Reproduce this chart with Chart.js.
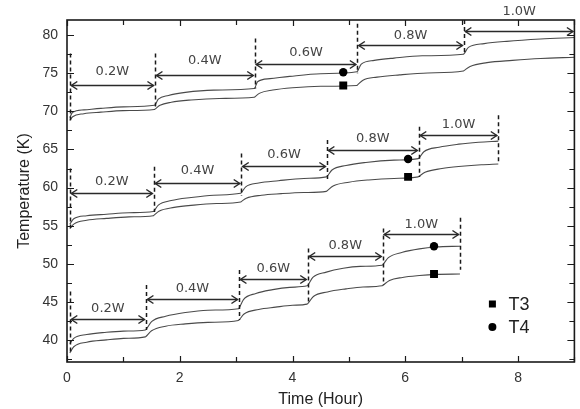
<!DOCTYPE html>
<html><head><meta charset="utf-8">
<style>html,body{margin:0;padding:0;background:#fff;}canvas{display:block}</style>
<script src="https://cdn.jsdelivr.net/npm/chart.js@4.4.0/dist/chart.umd.min.js"></script>
</head><body><canvas id="c" width="580" height="409"></canvas>
<script>
// ---- axis ticks ----
const xTickValues = [0, 2, 4, 6, 8];
const xMinorTicks = [0, 1, 2, 3, 4, 5, 6, 7, 8, 9];
const yTickValues = [40, 45, 50, 55, 60, 65, 70, 75, 80];
const yMinorTicks = [37.5, 40, 42.5, 45, 47.5, 50, 52.5, 55, 57.5, 60, 62.5, 65, 67.5, 70, 72.5, 75, 77.5, 80];

// ---- curves: group 1 (top) ----
const g1T4Time = [0.05,0.1,0.3,0.6,1.0,1.55, 1.56,1.62,1.8,2.1,2.6,3.32, 3.33,3.38,3.6,3.95,4.5,5.14, 5.15,5.22,5.45,5.8,6.3,7.03, 7.04,7.12,7.4,7.8,8.4,9.0];
const g1T4Temp = [69.2,69.9,70.2,70.4,70.6,70.8, 70.85,71.6,72.1,72.5,72.8,73.0, 73.05,73.9,74.3,74.6,74.95,75.2, 75.25,76.2,76.7,77.0,77.3,77.5, 77.55,78.4,78.9,79.2,79.5,79.7];
const g1T3Time = [0.05,0.1,0.3,0.6,1.0,1.55, 1.56,1.65,1.85,2.2,2.7,3.32, 3.33,3.42,3.65,4.0,4.5,5.14, 5.15,5.25,5.5,5.9,6.4,7.03, 7.04,7.15,7.45,7.9,8.4,9.0];
const g1T3Temp = [68.8,69.3,69.7,69.9,70.1,70.25, 70.3,70.8,71.2,71.5,71.7,71.85, 71.9,72.4,72.8,73.1,73.3,73.4, 73.45,74.1,74.5,74.8,75.05,75.3, 75.35,75.9,76.4,76.7,76.95,77.1];
// ---- group 2 (middle) ----
const g2T4Time = [0.05,0.12,0.35,0.7,1.1,1.53, 1.54,1.62,1.85,2.2,2.6,3.08, 3.09,3.17,3.4,3.75,4.2,4.6, 4.61,4.7,4.95,5.3,5.8,6.23, 6.24,6.33,6.6,6.95,7.3,7.65];
const g2T4Temp = [55.2,55.9,56.3,56.5,56.7,56.85, 56.9,57.7,58.3,58.7,59.0,59.25, 59.3,60.1,60.6,60.9,61.2,61.4, 61.45,62.3,62.9,63.3,63.6,63.8, 63.85,64.7,65.3,65.7,65.95,66.1];
const g2T3Time = [0.05,0.12,0.35,0.7,1.1,1.53, 1.54,1.63,1.9,2.25,2.65,3.08, 3.09,3.18,3.45,3.8,4.2,4.6, 4.61,4.72,5.0,5.35,5.8,6.23, 6.24,6.35,6.65,7.0,7.35,7.65];
const g2T3Temp = [54.6,55.2,55.7,55.95,56.15,56.3, 56.35,56.9,57.4,57.7,57.9,58.1, 58.15,58.6,59.0,59.2,59.35,59.5, 59.55,60.2,60.7,61.0,61.2,61.4, 61.45,62.0,62.5,62.8,63.0,63.1];
// ---- group 3 (bottom) ----
const g3T4Time = [0.05,0.12,0.35,0.7,1.0,1.39, 1.40,1.5,1.75,2.1,2.5,3.04, 3.05,3.13,3.35,3.65,3.95,4.26, 4.27,4.36,4.6,4.9,5.2,5.59, 5.6,5.7,5.95,6.25,6.55,6.97];
const g3T4Temp = [39.5,40.2,40.7,41.0,41.15,41.3, 41.35,42.4,43.1,43.6,43.9,44.1, 44.15,45.3,46.1,46.6,46.9,47.1, 47.15,48.2,48.9,49.4,49.65,49.8, 49.85,50.8,51.5,51.95,52.2,52.3];
const g3T3Time = [0.05,0.12,0.35,0.7,1.0,1.39, 1.40,1.5,1.75,2.1,2.5,3.04, 3.05,3.14,3.4,3.7,4.0,4.26, 4.27,4.37,4.62,4.95,5.25,5.59, 5.6,5.72,5.95,6.25,6.55,6.97];
const g3T3Temp = [38.3,39.1,39.7,40.0,40.2,40.4, 40.45,41.2,41.8,42.1,42.3,42.55, 42.6,43.4,44.0,44.3,44.55,44.7, 44.75,45.7,46.3,46.7,46.95,47.1, 47.15,47.8,48.2,48.45,48.6,48.65];

// ---- markers ----
const markerTime = [4.9, 6.05, 6.51];
const t3MarkerTemp = [73.4, 61.4, 48.65];
const t4MarkerTemp = [75.15, 63.75, 52.3];

// ---- power step annotations ----
const powerLabels = ['0.2W', '0.4W', '0.6W', '0.8W', '1.0W'];
const g1Bounds = [0.05, 1.56, 3.33, 5.15, 7.04, 9.0];
const g2Bounds = [0.05, 1.54, 3.09, 4.61, 6.24, 7.65];
const g3Bounds = [0.05, 1.40, 3.05, 4.27, 5.60, 6.97];
const g1ArrowY = [73.44, 74.75, 76.2, 78.69, 80.56];
const g2ArrowY = [59.24, 60.63, 62.82, 64.92, 66.89];
const g3ArrowY = [42.71, 45.38, 48.0, 51.05, 53.86];
const g1LabelY = [75.19, 76.72, 77.77, 80.0, 83.06];
const g2LabelY = [60.76, 62.2, 64.26, 66.45, 68.2];
const g3LabelY = [44.16, 46.69, 49.4, 52.37, 55.17];
const g1DashTop = [77.6, 77.6, 79.56, 81.5, 82.0, null];
const g1DashBot = [68.85, 70.6, 73.0, 75.0, 77.8, null];
const g2DashTop = [62.52, 62.73, 64.48, 66.23, 67.97, 69.5];
const g2DashBot = [54.69, 56.8, 58.9, 60.8, 61.4, 63.17];
const g3DashTop = [46.34, 47.21, 49.18, 52.0, 54.64, 56.04];
const g3DashBot = [38.46, 41.3, 42.6, 44.8, 47.2, 49.2];

const legendLabels = ['T3', 'T4'];

function pts(ts, ys) { return ts.map((t, i) => ({ x: t, y: ys[i] })); }
function curve(ts, ys) {
  return { type: 'line', data: pts(ts, ys), borderColor: '#4a4a4a', borderWidth: 1.1,
    pointRadius: 0, cubicInterpolationMode: 'monotone', fill: false, order: 2 };
}

const groups = [
  { b: g1Bounds, a: g1ArrowY, l: g1LabelY, dt: g1DashTop, db: g1DashBot },
  { b: g2Bounds, a: g2ArrowY, l: g2LabelY, dt: g2DashTop, db: g2DashBot },
  { b: g3Bounds, a: g3ArrowY, l: g3LabelY, dt: g3DashTop, db: g3DashBot }
];

const annotPlugin = {
  id: 'annot',
  afterDraw(chart) {
    const ctx = chart.ctx, xs = chart.scales.x, ys = chart.scales.y, ca = chart.chartArea;
    ctx.save();
    // dashed vertical lines
    ctx.strokeStyle = '#1a1a1a'; ctx.lineWidth = 1.5; ctx.setLineDash([4, 3]);
    groups.forEach(g => {
      g.b.forEach((t, i) => {
        if (g.dt[i] == null) return;
        const x = Math.round(xs.getPixelForValue(t)) + 0.5;
        ctx.beginPath();
        ctx.moveTo(x, ys.getPixelForValue(g.dt[i]));
        ctx.lineTo(x, ys.getPixelForValue(g.db[i]));
        ctx.stroke();
      });
    });
    ctx.setLineDash([]);
    // arrows
    ctx.strokeStyle = '#2a2a2a'; ctx.lineWidth = 1.5;
    ctx.fillStyle = '#444';
    ctx.font = '13px "DejaVu Sans"'; ctx.textAlign = 'center'; ctx.textBaseline = 'middle';
    groups.forEach(g => {
      for (let i = 0; i < 5; i++) {
        const x1 = xs.getPixelForValue(g.b[i]) + 1.5, x2 = xs.getPixelForValue(g.b[i + 1]) - 1.5;
        const y = Math.round(ys.getPixelForValue(g.a[i])) + 0.5;
        ctx.beginPath(); ctx.moveTo(x1, y); ctx.lineTo(x2, y); ctx.stroke();
        ctx.beginPath();
        ctx.moveTo(x1 + 6, y - 4); ctx.lineTo(x1, y); ctx.lineTo(x1 + 6, y + 4);
        ctx.moveTo(x2 - 6, y - 4); ctx.lineTo(x2, y); ctx.lineTo(x2 - 6, y + 4);
        ctx.stroke();
        ctx.fillText(powerLabels[i], (xs.getPixelForValue(g.b[i]) + xs.getPixelForValue(g.b[i + 1])) / 2,
          ys.getPixelForValue(g.l[i]));
      }
    });
    // frame
    ctx.strokeStyle = '#1a1a1a'; ctx.lineWidth = 1.6;
    ctx.strokeRect(ca.left, ca.top, ca.right - ca.left, ca.bottom - ca.top);
    ctx.lineWidth = 1.2;
    ctx.beginPath();
    xMinorTicks.forEach(v => {
      const x = Math.round(xs.getPixelForValue(v)) + 0.5;
      const len = xTickValues.includes(v) ? 6 : 5;
      ctx.moveTo(x, ca.bottom); ctx.lineTo(x, ca.bottom - len);
      ctx.moveTo(x, ca.top); ctx.lineTo(x, ca.top + len);
    });
    yMinorTicks.forEach(v => {
      const y = Math.round(ys.getPixelForValue(v)) + 0.5;
      const len = yTickValues.includes(v) ? 7 : 5;
      ctx.moveTo(ca.left, y); ctx.lineTo(ca.left + len, y);
      ctx.moveTo(ca.right, y); ctx.lineTo(ca.right - len, y);
    });
    ctx.stroke();
    // legend
    const lx = ca.right - 82, ly1 = ca.bottom - 58, ly2 = ca.bottom - 35;
    ctx.fillStyle = '#000';
    ctx.fillRect(lx - 3.5, ly1 - 3.5, 7, 7);
    ctx.beginPath(); ctx.arc(lx, ly2, 4, 0, Math.PI * 2); ctx.fill();
    ctx.fillStyle = '#222'; ctx.font = '18px "Liberation Sans"'; ctx.textAlign = 'left';
    ctx.fillText(legendLabels[0], lx + 16, ly1 + 1);
    ctx.fillText(legendLabels[1], lx + 16, ly2 + 1);
    ctx.restore();
  }
};

const tickFont = { family: '"Liberation Sans", Arial', size: 14 };
new Chart(document.getElementById('c'), {
  type: 'scatter',
  data: {
    datasets: [
      curve(g1T4Time, g1T4Temp), curve(g1T3Time, g1T3Temp),
      curve(g2T4Time, g2T4Temp), curve(g2T3Time, g2T3Temp),
      curve(g3T4Time, g3T4Temp), curve(g3T3Time, g3T3Temp),
      { label: 'T3', data: pts(markerTime, t3MarkerTemp), pointStyle: 'rect', pointRadius: 5.6,
        backgroundColor: '#000', borderColor: '#000', borderWidth: 0, order: 1 },
      { label: 'T4', data: pts(markerTime, t4MarkerTemp), pointStyle: 'circle', pointRadius: 4.2,
        backgroundColor: '#000', borderColor: '#000', borderWidth: 0, order: 1 }
    ]
  },
  options: {
    responsive: false, devicePixelRatio: 1, animation: false,
    layout: { padding: { left: 0, right: 5, top: 20, bottom: 0 } },
    plugins: { legend: { display: false }, tooltip: { enabled: false } },
    scales: {
      x: {
        type: 'linear', min: 0, max: 9,
        afterBuildTicks: s => { s.ticks = xTickValues.map(v => ({ value: v })); },
        afterFit: s => { s.height = 47; },
        grid: { display: false, drawTicks: false }, border: { display: false },
        ticks: { font: tickFont, color: '#333', padding: 8 },
        title: { display: true, text: 'Time (Hour)', font: { family: '"Liberation Sans", Arial', size: 16 }, color: '#222', padding: { top: 2, bottom: 0 } }
      },
      y: {
        type: 'linear', min: 37.1, max: 82,
        afterBuildTicks: s => { s.ticks = yTickValues.map(v => ({ value: v })); },
        afterFit: s => { s.width = 67; },
        grid: { display: false, drawTicks: false }, border: { display: false },
        ticks: { font: tickFont, color: '#333', padding: 9 },
        title: { display: true, text: 'Temperature (K)', font: { family: '"Liberation Sans", Arial', size: 16 }, color: '#222', padding: { top: 15, bottom: 0 } }
      }
    }
  },
  plugins: [annotPlugin]
});
</script></body></html>
